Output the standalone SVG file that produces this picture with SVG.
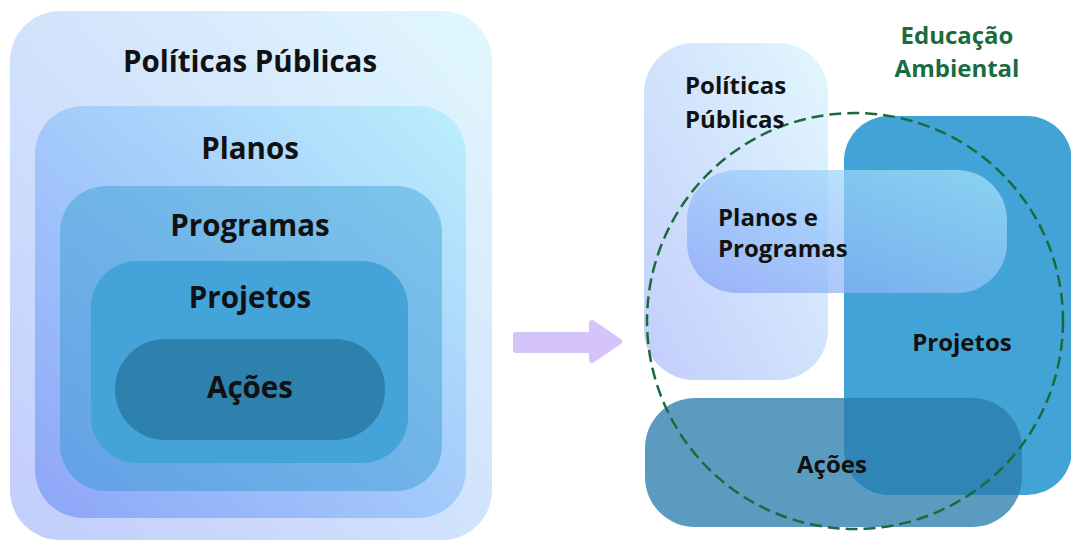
<svg xmlns="http://www.w3.org/2000/svg" width="1071" height="541" viewBox="0 0 1071 541">
  <defs>
    <linearGradient id="gOuter" x1="0" y1="1" x2="1" y2="0">
      <stop offset="0" stop-color="#c2cdfb"/>
      <stop offset="1" stop-color="#e1f8fe"/>
    </linearGradient>
    <linearGradient id="gPlanos" x1="0" y1="1" x2="1" y2="0">
      <stop offset="0" stop-color="#8da5f8"/>
      <stop offset="1" stop-color="#bbeffd"/>
    </linearGradient>
    <linearGradient id="gProg" x1="0" y1="1" x2="1" y2="0">
      <stop offset="0" stop-color="#63a0e6"/>
      <stop offset="1" stop-color="#7cc6ea"/>
    </linearGradient>
    <linearGradient id="gPP" x1="0" y1="1" x2="1" y2="0">
      <stop offset="0" stop-color="#86a2f7"/>
      <stop offset="1" stop-color="#a5e6fb"/>
    </linearGradient>
    <style>
      .t { font-family: "Open Sans", "Noto Sans", "Liberation Sans", sans-serif; font-weight: 700; fill: #111111; }
      .tl { font-size: 29.5px; text-anchor: middle; }
      .tr { font-size: 24px; }
      .green { fill: #1b6b41; font-size: 24px; text-anchor: middle; }
    </style>
  </defs>

  <!-- Left: nested -->
  <g id="left-politicas">
    <rect x="10" y="11" width="482" height="529" rx="50" fill="url(#gOuter)"/>
    <text class="t tl" x="250" y="72">Políticas Públicas</text>
  </g>
  <g id="left-planos">
    <rect x="35" y="106" width="431" height="412" rx="48" fill="url(#gPlanos)"/>
    <text class="t tl" x="250" y="159">Planos</text>
  </g>
  <g id="left-programas">
    <rect x="60" y="186" width="382" height="305" rx="46" fill="url(#gProg)"/>
    <text class="t tl" x="250" y="236">Programas</text>
  </g>
  <g id="left-projetos">
    <rect x="91" y="261" width="317" height="202" rx="46" fill="#44a3d9"/>
    <text class="t tl" x="250" y="308">Projetos</text>
  </g>
  <g id="left-acoes">
    <rect x="115" y="339" width="270" height="101" rx="50" fill="#2e80ad"/>
    <text class="t tl" x="250" y="398">Ações</text>
  </g>

  <!-- Connector arrow -->
  <g id="connectors">
    <path d="M516,335 L592,335 L592,323 L619,341.5 L592,360 L592,350 L516,350 Z" fill="#d5c4fa" stroke="#d5c4fa" stroke-width="6" stroke-linejoin="round"/>
  </g>

  <!-- Right: overlapping -->
  <g id="right-politicas">
    <rect x="644" y="43" width="184" height="337" rx="50" fill="url(#gOuter)"/>
  </g>
  <g id="right-projetos">
    <rect x="844" y="116" width="228" height="379" rx="45" fill="#42a4d6"/>
  </g>
  <g id="right-planos-programas">
    <rect x="687" y="170" width="320" height="123" rx="50" fill="url(#gPP)" opacity="0.72"/>
  </g>
  <g id="right-acoes">
    <rect x="645" y="398" width="377" height="129" rx="50" fill="#2a7dac" opacity="0.77"/>
  </g>
  <g id="educacao-ambiental">
    <circle cx="855" cy="321" r="208" fill="none" stroke="#1a6b3c" stroke-width="2.5" stroke-dasharray="12 6"/>
    <text class="t green" x="957" y="44">Educação</text>
    <text class="t green" x="957" y="77">Ambiental</text>
  </g>
  <g id="right-labels">
    <text class="t tr" x="685" y="94">Políticas</text>
    <text class="t tr" x="685" y="128">Públicas</text>
    <text class="t tr" x="718" y="226">Planos e</text>
    <text class="t tr" x="718" y="257">Programas</text>
    <text class="t tr" x="962" y="351" text-anchor="middle">Projetos</text>
    <text class="t tr" x="832" y="473" text-anchor="middle">Ações</text>
  </g>
</svg>
